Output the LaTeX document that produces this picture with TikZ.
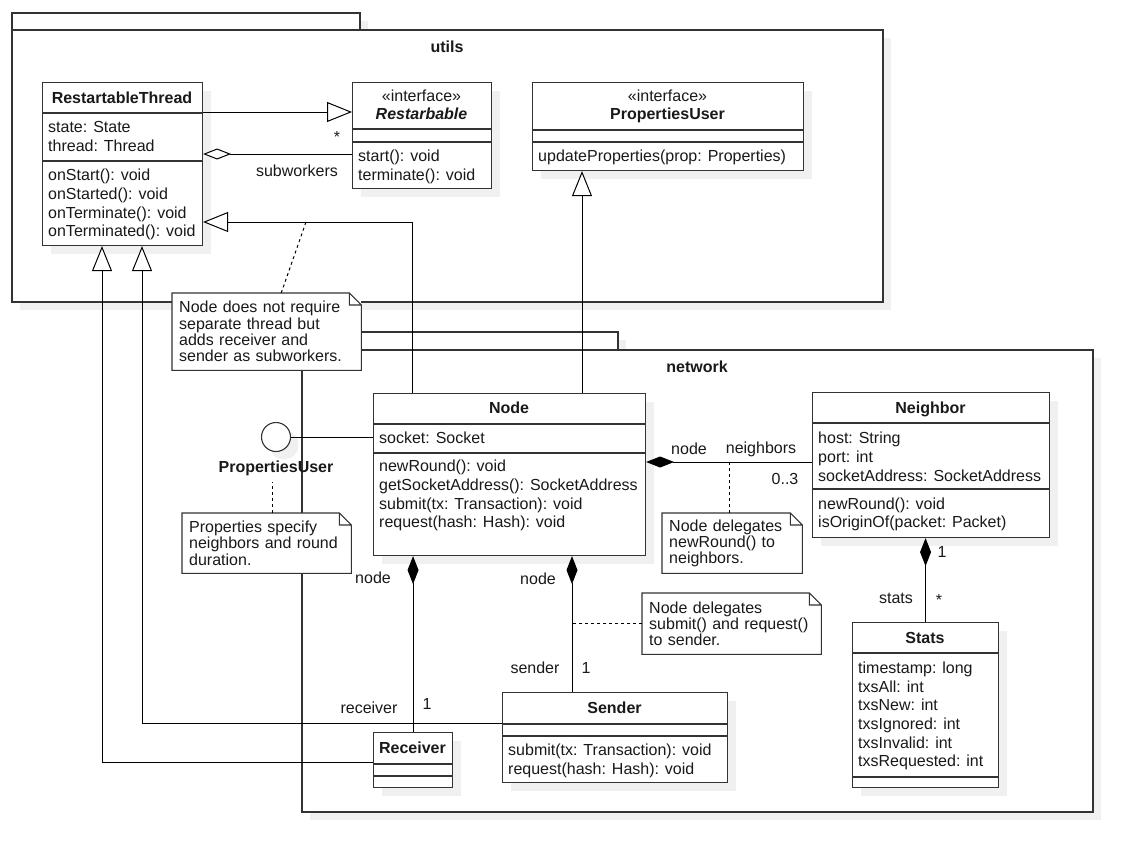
\documentclass[tikz,border=0pt]{standalone}
\usepackage{fontspec}
\setmainfont{Liberation Sans}
\usetikzlibrary{arrows.meta,shadows,positioning}

\newcommand{\mfont}{\fontsize{16}{18.7}\selectfont}
\newcommand{\nfont}{\fontsize{16}{16.3}\selectfont}

\tikzset{
  shadowed/.style={general shadow={fill=black!6, shadow xshift=8pt, shadow yshift=-8pt}},
  pkg/.style={draw=black!80, line width=1.1pt, fill=white, shadowed},
  cls/.style={draw=black!80, line width=1.1pt, fill=white, shadowed, anchor=north west, inner sep=0pt},
  sep/.style={draw=black!80, line width=1.1pt},
  title/.style={font={\mfont\bfseries}, text height=11.5pt, text depth=0pt, inner sep=0pt},
  txt/.style={font=\mfont, text height=11.5pt, text depth=0pt, inner sep=0pt},
  members/.style={font=\mfont, anchor=north west, align=left, inner sep=0pt},
  notebox/.style={font=\nfont, align=left, inner xsep=7pt, inner ysep=0pt, anchor=north west, fill=white},
  gen/.style={line width=1pt, -{Triangle[length=25pt, width=20pt, fill=white]}},
  agg/.style={line width=1pt, {Diamond[length=28pt, width=11pt, fill=white]}-},
  comp/.style={line width=1pt, {Diamond[length=28pt, width=11pt]}-},
  noteline/.style={line width=1pt, dash pattern=on 3pt off 3pt}
}

\begin{document}
\begin{tikzpicture}[x=1pt, y=-1pt, text=black!90]
    \useasboundingbox (0,0) rectangle (1142,862);

    % 绘制包 utils
    \draw[pkg] (12,13) rectangle (360,30);
    \draw[pkg] (12,30) rectangle (883,302);
    \node[title] at (447,47) {utils};

    % 绘制包 network
    \draw[pkg] (302,332) rectangle (618,350);
    \draw[pkg] (302,350) rectangle (1093,812);
    \node[title] at (697,367) {network};

    % 绘制类 RestartableThread
    \node[cls, minimum width=160pt, minimum height=163pt] (rt) at (42,82) {};
    \draw[sep] (42,113) -- (202,113) (42,161) -- (202,161);
    \node[title] at (122,98) {RestartableThread};
    \node[members] at (48,119.5) {\strut state: State\\thread: Thread};
    \node[members] at (48,167.5) {\strut onStart(): void\\onStarted(): void\\onTerminate(): void\\onTerminated(): void};

    % 绘制接口 Restarbable
    \node[cls, minimum width=139pt, minimum height=106pt] (rb) at (352,82) {};
    \draw[sep] (352,129) -- (491,129) (352,142) -- (491,142);
    \node[txt] at (421.5,96) {«interface»};
    \node[title] at (421.5,114) {\itshape Restarbable};
    \node[members] at (358,148.5) {\strut start(): void\\terminate(): void};

    % 绘制接口 PropertiesUser
    \node[cls, minimum width=271pt, minimum height=88pt] (pu) at (532,82) {};
    \draw[sep] (532,130) -- (803,130) (532,142) -- (803,142);
    \node[txt] at (667.5,96) {«interface»};
    \node[title] at (667.5,114) {PropertiesUser};
    \node[members] at (538,148.5) {\strut updateProperties(prop: Properties)};

    % 绘制类 Node
    \node[cls, minimum width=272pt, minimum height=162pt] (nd) at (373,393) {};
    \draw[sep] (373,424) -- (645,424) (373,453) -- (645,453);
    \node[title] at (509,408) {Node};
    \node[members] at (379,430.5) {\strut socket: Socket};
    \node[members] at (379,458.5) {\strut newRound(): void\\getSocketAddress(): SocketAddress\\submit(tx: Transaction): void\\request(hash: Hash): void};

    % 绘制类 Neighbor
    \node[cls, minimum width=237pt, minimum height=145pt] (nb) at (812,392) {};
    \draw[sep] (812,423) -- (1049,423) (812,489) -- (1049,489);
    \node[title] at (930.5,408) {Neighbor};
    \node[members] at (818,430.5) {\strut host: String\\port: int\\socketAddress: SocketAddress};
    \node[members] at (818,496) {\strut newRound(): void\\isOriginOf(packet: Packet)};

    % 绘制类 Stats
    \node[cls, minimum width=146pt, minimum height=165pt] (st) at (852,622) {};
    \draw[sep] (852,653) -- (998,653) (852,777) -- (998,777);
    \node[title] at (925,638) {Stats};
    \node[members] at (858,660) {\strut timestamp: long\\txsAll: int\\txsNew: int\\txsIgnored: int\\txsInvalid: int\\txsRequested: int};

    % 绘制类 Sender
    \node[cls, minimum width=225pt, minimum height=90pt] (sd) at (502,692) {};
    \draw[sep] (502,724) -- (727,724) (502,736) -- (727,736);
    \node[title] at (614.5,708) {Sender};
    \node[members] at (508,742.5) {\strut submit(tx: Transaction): void\\request(hash: Hash): void};

    % 绘制类 Receiver
    \node[cls, minimum width=79pt, minimum height=55pt] (rc) at (373,732) {};
    \draw[sep] (373,764) -- (452,764) (373,776) -- (452,776);
    \node[title] at (412.5,748) {Receiver};

    % 绘制接口符号
    \node[circle, draw=black!80, line width=1.1pt, fill=white, shadowed, minimum size=29pt, inner sep=0pt] (iface) at (276,437) {};
    \node[title] (pulabel) at (276,467) {PropertiesUser};
    \draw[line width=1pt] (iface) -- (iface -| nd.west);

    % 绘制实现与泛化
    \draw[gen] ([yshift=-30pt]rt.north east) -- ([yshift=-30pt]rb.north west);
    \coordinate (ndrt) at ([xshift=39pt]nd.north west);
    \draw[gen] (ndrt) |- ([yshift=-140pt]rt.north east);
    \coordinate (ndpu) at ([xshift=209pt]nd.north west);
    \draw[gen] (ndpu) -- (ndpu |- pu.south);
    \draw[gen] ([yshift=-31pt]sd.north west) -| ([xshift=100pt]rt.south west);
    \draw[gen] ([yshift=-30pt]rc.north west) -| ([xshift=60pt]rt.south west);

    % 绘制聚合
    \draw[agg] ([yshift=-72pt]rt.north east) -- ([yshift=-72pt]rb.north west);
    \node[txt] at (337,137) {*};
    \node[txt] at (297,171) {subworkers};

    % 绘制组合
    \coordinate (ndnb) at ([yshift=-69pt]nd.north east);
    \draw[comp] (ndnb) -- (ndnb -| nb.west);
    \node[txt] at (689,449) {node};
    \node[txt] at (761,448) {neighbors};
    \node[txt] at (785,479) {0..3};

    \draw[comp] (st.north |- nb.south) -- (st.north);
    \node[txt] at (942,552) {1};
    \node[txt] at (896,598) {stats};
    \node[txt] at (939,600) {*};

    \draw[comp] (rc.north |- nd.south) -- (rc.north);
    \node[txt] at (373,578) {node};
    \node[txt] at (369,708) {receiver};
    \node[txt] at (427,704) {1};

    \coordinate (sdnd) at ([xshift=70pt]sd.north west);
    \draw[comp] (sdnd |- nd.south) -- (sdnd);
    \node[txt] at (538,579) {node};
    \node[txt] at (535,668) {sender};
    \node[txt] at (586,668) {1};

    % 绘制注释
    \node[notebox, text width=175pt, minimum height=77pt] (n1) at (172,293) {Node does not require\\separate thread but\\adds receiver and\\sender as subworkers.};
    \node[notebox, text width=155pt, minimum height=60pt] (n2) at (182,513) {Properties specify\\neighbors and round\\duration.};
    \node[notebox, text width=126pt, minimum height=60pt] (n3) at (662,513) {Node delegates\\newRound() to\\neighbors.};
    \node[notebox, text width=165pt, minimum height=61pt] (n4) at (642,593) {Node delegates\\submit() and request()\\to sender.};
    \foreach \n in {n1,n2,n3,n4}
        \draw[sep] (\n.north west) -- ([xshift=-12pt]\n.north east) -- ([yshift=-12pt]\n.north east) -- (\n.south east) -- (\n.south west) -- cycle
            ([xshift=-12pt]\n.north east) |- ([yshift=-12pt]\n.north east);

    % 注释连线
    \coordinate (g1) at (306,222);
    \draw[noteline] ([xshift=14.5pt]n1.north) -- (g1);
    \draw[noteline] ([xshift=6pt]n2.north) -- ++(0,-31);
    \draw[noteline] ([xshift=-3pt]n3.north) -- ++(0,-51);
    \draw[noteline] (n4.west) -- (n4.west -| sdnd);
\end{tikzpicture}
\end{document}
